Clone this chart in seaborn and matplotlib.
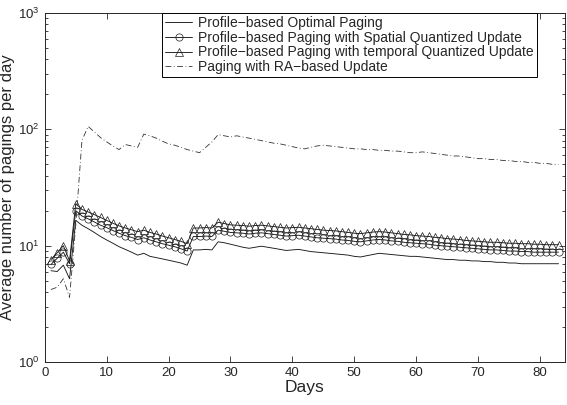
import numpy as np
import pandas as pd
import matplotlib
matplotlib.use("Agg")
import matplotlib.pyplot as plt
import seaborn as sns

days = list(range(1, 84))

optimal = [6.1, 6.0, 6.8, 5.2, 16.5, 15.0, 14.0, 13.0, 12.0, 11.2,
           10.5, 9.8, 9.3, 8.8, 8.3, 8.6, 8.1, 7.9, 7.7, 7.5,
           7.3, 7.1, 6.8, 9.2, 9.2, 9.3, 9.2,
           10.8, 10.6, 10.3, 10.0, 9.7, 9.5, 9.7, 9.9, 9.7, 9.5,
           9.3, 9.1, 9.2, 9.3, 9.1, 8.9, 8.8, 8.7, 8.6, 8.5,
           8.4, 8.3, 8.1, 8.0, 8.2, 8.4, 8.6, 8.5, 8.4, 8.3,
           8.2, 8.1, 8.1, 8.0, 7.9, 7.8, 7.7, 7.6, 7.6, 7.5,
           7.5, 7.4, 7.4, 7.3, 7.3, 7.2, 7.2, 7.1, 7.1, 7.0,
           7.0, 7.0, 7.0, 7.0, 7.0, 7.0]

spatial = [6.9, 7.8, 8.8, 7.0, 20.0, 18.0, 17.0, 16.0, 15.0, 14.3,
           13.5, 12.8, 12.2, 11.8, 11.3, 11.7, 11.2, 10.8, 10.4, 10.1,
           9.8, 9.4, 9.0, 12.0, 12.0, 12.1, 12.0,
           13.6, 13.3, 13.0, 12.9, 12.8, 12.6, 12.8, 12.9, 12.7, 12.5,
           12.3, 12.1, 12.2, 12.3, 12.1, 11.9, 11.7, 11.6, 11.5, 11.4,
           11.2, 11.1, 10.9, 10.8, 11.0, 11.2, 11.3, 11.2, 11.0, 10.9,
           10.7, 10.6, 10.5, 10.4, 10.3, 10.1, 10.0, 9.9, 9.8, 9.7,
           9.6, 9.5, 9.4, 9.3, 9.2, 9.2, 9.1, 9.0, 9.0, 8.9,
           8.9, 8.8, 8.8, 8.8, 8.8, 8.8]

temporal = [7.6, 8.7, 10.0, 7.4, 23.0, 20.5, 19.5, 18.5, 17.5, 16.5,
            15.6, 14.8, 14.2, 13.7, 13.2, 13.6, 13.0, 12.6, 12.1, 11.7,
            11.3, 10.9, 10.4, 14.2, 14.2, 14.3, 14.2,
            15.9, 15.5, 15.1, 15.0, 14.9, 14.7, 14.9, 15.0, 14.8, 14.6,
            14.4, 14.2, 14.3, 14.4, 14.2, 14.0, 13.8, 13.6, 13.5, 13.4,
            13.2, 13.0, 12.8, 12.7, 12.9, 13.1, 13.2, 13.1, 12.9, 12.7,
            12.5, 12.4, 12.2, 12.1, 12.0, 11.8, 11.7, 11.5, 11.4, 11.3,
            11.1, 11.0, 10.9, 10.8, 10.7, 10.7, 10.6, 10.5, 10.5, 10.4,
            10.4, 10.3, 10.3, 10.2, 10.2, 10.2]

ra_based = [4.2, 4.4, 5.2, 3.6, 15, 80, 106, 95, 85, 78,
            72, 67, 74, 72, 70, 91, 88, 84, 79, 75,
            73, 70, 67, 65, 63, 70, 78, 90, 88, 86,
            88, 86, 84, 82, 80, 78, 76, 75, 73, 71,
            69, 68, 70, 72, 73, 72, 71, 70, 69, 68,
            68, 67, 67, 66, 66, 65, 65, 64, 63, 63,
            64, 63, 62, 61, 60, 59, 59, 58, 57, 56,
            56, 55, 55, 54, 54, 53, 53, 52, 52, 51,
            51, 50, 50]

labels = ["Profile\u2212based Optimal Paging",
          "Profile\u2212based Paging with Spatial Quantized Update",
          "Profile\u2212based Paging with temporal Quantized Update",
          "Paging with RA\u2212based Update"]

sns.set_style("ticks")
plt.rcParams["font.family"] = ["Liberation Sans", "DejaVu Sans"]
plt.rcParams["mathtext.default"] = "regular"
plt.rcParams["xtick.direction"] = "in"
plt.rcParams["ytick.direction"] = "in"

df = pd.DataFrame({"day": days, "optimal": optimal, "spatial": spatial,
                   "temporal": temporal, "ra": ra_based})

fig = plt.figure(figsize=(5.67, 4.05), dpi=100)
ax = fig.add_axes([0.079, 0.106, 0.917, 0.862])

ink = "#1a1a1a"
sns.lineplot(data=df, x="day", y="optimal", ax=ax, color=ink, lw=0.65,
             label=labels[0])
sns.lineplot(data=df, x="day", y="spatial", ax=ax, color=ink, lw=0.65,
             marker="o", markersize=5.2, markerfacecolor="none",
             markeredgecolor=ink, markeredgewidth=0.5, label=labels[1])
sns.lineplot(data=df, x="day", y="temporal", ax=ax, color=ink, lw=0.65,
             marker="^", markersize=5.8, markerfacecolor="none",
             markeredgecolor=ink, markeredgewidth=0.5, label=labels[2])
sns.lineplot(data=df, x="day", y="ra", ax=ax, color="#333333", lw=0.6,
             linestyle=(0, (7, 3, 1, 3)), label=labels[3])

ax.set_yscale("log")
ax.set_ylim(1, 1000)
ax.set_xlim(0, 84)
ax.set_xticks(range(0, 81, 10))
ax.tick_params(which="both", top=True, right=True, labelsize=9.5)
ax.tick_params(which="major", length=4, width=0.6)
ax.tick_params(which="minor", length=2.5, width=0.6)
ax.tick_params(axis="x", which="minor", top=False, bottom=False)
for s in ax.spines.values():
    s.set_linewidth(0.7)

ax.set_xlabel("Days", fontsize=12.5, labelpad=1)
ax.set_ylabel("Average number of pagings per day", fontsize=12, labelpad=2)

leg = ax.legend(loc="upper right", bbox_to_anchor=(0.946, 1.0),
                borderaxespad=0, fancybox=False, framealpha=1,
                edgecolor="black", fontsize=10, handlelength=1.9,
                labelspacing=0.05, borderpad=0.22, handletextpad=0.45)
leg.get_frame().set_linewidth(0.7)

fig.savefig("out.png", dpi=100)
